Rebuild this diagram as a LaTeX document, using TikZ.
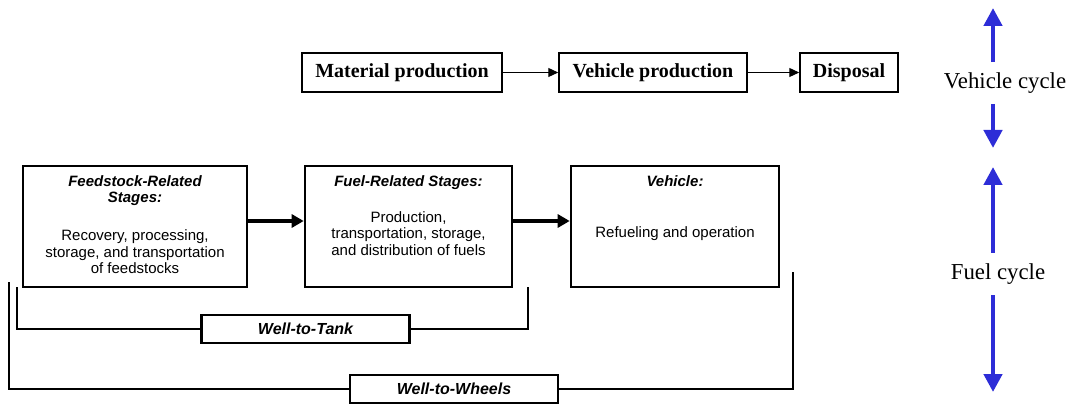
\documentclass[tikz,border=0pt]{standalone}
\usepackage{fontspec}
\setmainfont{Liberation Serif}
\setsansfont{Liberation Sans}
\usetikzlibrary{arrows.meta,positioning,calc}
\definecolor{cycleblue}{RGB}{45,45,215}
\tikzstyle{lifebox}=[rectangle, draw=black, line width=0.75pt, inner sep=0pt, minimum height=19.5pt, font=\bfseries]
\tikzstyle{stage}=[rectangle, draw=black, line width=1.3pt, inner sep=0pt, font=\sffamily\fontsize{7.5}{8.3}\selectfont]
\tikzstyle{pathway}=[rectangle, draw=black, line width=1.1pt, inner sep=0pt, minimum width=104pt, minimum height=14pt, font=\sffamily\bfseries\itshape\fontsize{8}{9.6}\selectfont]
\tikzstyle{cyclelabel}=[inner sep=0pt, font=\fontsize{11.4}{13}\selectfont]
\tikzstyle{connect}=[-{Triangle[length=5pt,width=4.5pt]}, line width=0.6pt]
\tikzstyle{bigconnect}=[-{Triangle[length=6pt,width=6.5pt]}, line width=2pt]
\tikzstyle{bracket}=[line width=1pt]
\tikzstyle{cyclearrow}=[-{Triangle[length=9pt,width=9pt]}, line width=2.2pt, draw=cycleblue]
\newcommand{\stagetext}[2]{\parbox[c][60.5pt][t]{#1}{\centering\rule{0pt}{10pt}#2}}

\begin{document}
\begin{tikzpicture}[x=0.5pt, y=-0.5pt]
  \useasboundingbox (0,0) rectangle (1074,406);

  % vehicle cycle
  \node[lifebox, minimum width=100pt] (matprod) at (402,72.5) {Material production};
  \node[lifebox, minimum width=94pt]  (vehprod) at (653,72.5) {Vehicle production};
  \node[lifebox, minimum width=49pt]  (disposal) at (849,72.5) {Disposal};
  \path (matprod) edge [connect] (vehprod)
        (vehprod) edge [connect] (disposal);

  % fuel cycle
  \node[stage] (feed) at (135,226.5) {\stagetext{112pt}{\textbf{\textit{Feedstock-Related\\Stages:}}\\[10.7pt]
    Recovery, processing,\\storage, and transportation\\of feedstocks}};
  \node[stage] (fuel) at (408.5,226.5) {\stagetext{103.5pt}{\textbf{\textit{Fuel-Related Stages:}}\\[9.7pt]
    Production,\\transportation, storage,\\and distribution of fuels}};
  \node[stage] (vehicle) at (675,226.5) {\stagetext{104pt}{\textbf{\textit{Vehicle:}}\\[17.2pt]
    Refueling and operation}};
  \draw[bigconnect] ([yshift=2.75pt]feed.east) -- ([yshift=2.75pt]fuel.west);
  \draw[bigconnect] ([yshift=2.75pt]fuel.east) -- ([yshift=2.75pt]vehicle.west);

  % brackets
  \node[pathway] (wtt) at (305.5,329) {Well-to-Tank};
  \node[pathway] (wtw) at (454,389) {Well-to-Wheels};
  \coordinate (wttL) at (17,287);
  \coordinate (wttR) at (528,287);
  \coordinate (wtwL) at (9,282);
  \coordinate (wtwR) at (793,272);
  \draw[bracket] (wttL) |- (wtt.west);
  \draw[bracket] (wtt.east) -| (wttR);
  \draw[bracket] (wtwL) |- (wtw.west);
  \draw[bracket] (wtw.east) -| (wtwR);

  % cycle arrows
  \node[cyclelabel, minimum height=20.5pt] (vcyc) at (1005,83) {Vehicle cycle};
  \node[cyclelabel, minimum height=21pt] (fcyc) at (998,274) {Fuel cycle};
  \coordinate (vtop) at (993,8);
  \coordinate (vbot) at (993,148);
  \coordinate (ftop) at (993,167);
  \coordinate (fbot) at (993,392);
  \draw[cyclearrow] (vcyc.north -| vtop) -- (vtop);
  \draw[cyclearrow] (vcyc.south -| vbot) -- (vbot);
  \draw[cyclearrow] (fcyc.north -| ftop) -- (ftop);
  \draw[cyclearrow] (fcyc.south -| fbot) -- (fbot);
\end{tikzpicture}
\end{document}
